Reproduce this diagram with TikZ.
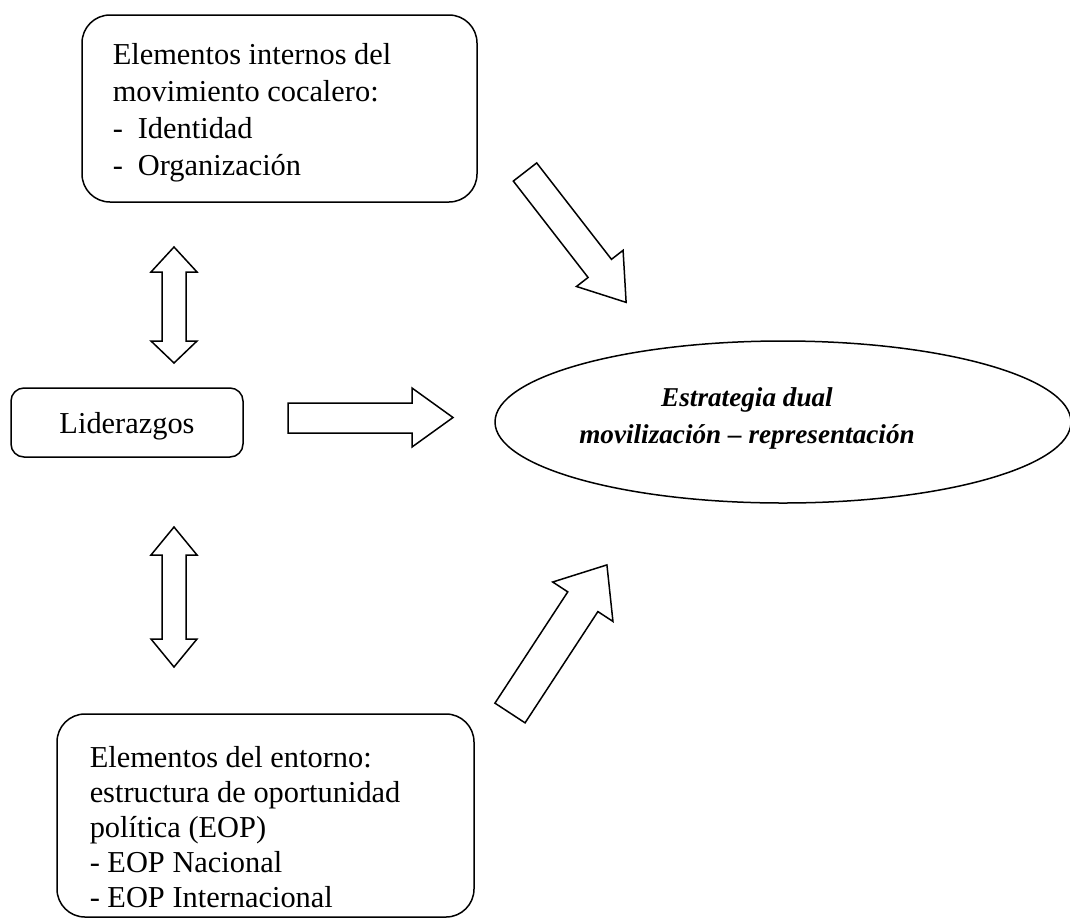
\documentclass[tikz,border=0pt]{standalone}
\usepackage{fontspec}
\setmainfont{Liberation Serif}
\usetikzlibrary{shapes.geometric}
\begin{document}
\begin{tikzpicture}[x=1pt,y=-1pt,line width=1.5pt,
  roundbox/.style={draw,rounded corners=28pt,inner sep=0pt},
  boxtext/.style={anchor=north west,inner sep=0pt,align=left},
  blockarrow/.style={draw,line join=miter,fill=white},
  txtfont/.style={font=\fontsize{30.4}{37}\selectfont}]
\useasboundingbox (0,0) rectangle (1070,919);
% boxes
\node[roundbox,minimum width=395pt,minimum height=187pt] (internos) at (279.5,108.5) {};
\node[boxtext,txtfont] (internostxt) at (112,43) {Elementos internos del\\movimiento cocalero:\\-\hspace{15pt}Identidad\\-\hspace{15pt}Organización};
\node[roundbox,minimum width=417pt,minimum height=203pt] (entorno) at (265.5,815.5) {};
\node[boxtext,font=\fontsize{30.4}{35}\selectfont] (entornotxt) at (89,746) {Elementos del entorno:\\estructura de oportunidad\\política (EOP)\\- EOP Nacional\\- EOP Internacional};
\node[roundbox,rounded corners=13pt,minimum width=232pt,minimum height=69pt,txtfont,text depth=0pt] (lider) at (127,422.5) {Liderazgos};
\node[draw,ellipse,minimum width=576pt,minimum height=162pt,inner sep=0pt] (estrategia) at (783,422) {};
\node[anchor=north,inner sep=0pt,align=center,font=\fontsize{27.2}{37}\selectfont\bfseries\itshape] (estrategiatxt) at (747,387) {Estrategia dual\\movilización – representación};
% block arrows
\draw[blockarrow] (288,403) -- (412,403) -- (412,388) -- (453,417.5) -- (412,447) -- (412,433) -- (288,433) -- cycle;
\draw[blockarrow,shift={(525,172)},rotate=-52.2] (0,-14.8) -- (122,-14.8) -- (122,-29.5) -- (165,0) -- (122,29.5) -- (122,14.8) -- (0,14.8) -- cycle;
\draw[blockarrow,shift={(510,713)},rotate=56.8] (0,-18) -- (133,-18) -- (133,-36) -- (177,0) -- (133,36) -- (133,18) -- (0,18) -- cycle;
\draw[blockarrow] (174,247) -- (197,272) -- (186,272) -- (186,341) -- (197,341) -- (174,363) -- (151,341) -- (162,341) -- (162,272) -- (151,272) -- cycle;
\draw[blockarrow] (174,527) -- (197,555) -- (186,555) -- (186,639) -- (197,639) -- (174,667) -- (151,639) -- (162,639) -- (162,555) -- (151,555) -- cycle;
\end{tikzpicture}
\end{document}
